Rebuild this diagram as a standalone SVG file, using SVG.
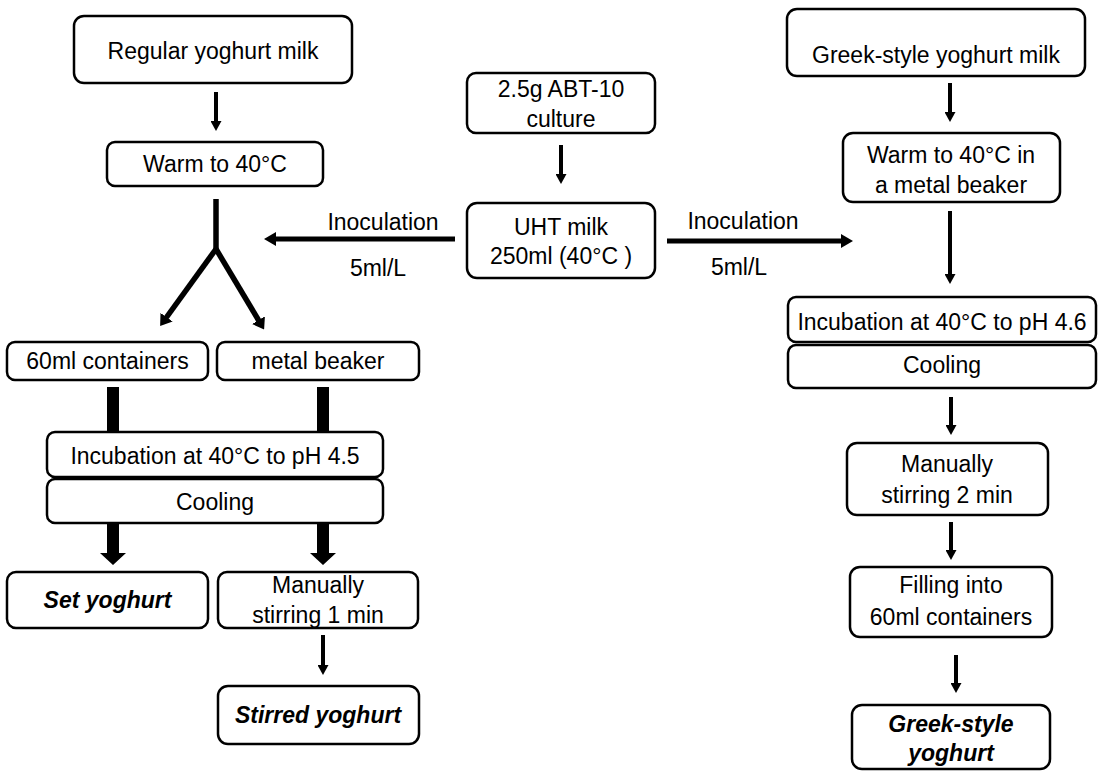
<svg xmlns="http://www.w3.org/2000/svg" width="1099" height="771" viewBox="0 0 1099 771">
<style>
.box{fill:#fff;stroke:#000;stroke-width:2.5}
text{font-family:"Liberation Sans",Arial,sans-serif;font-size:23px;fill:#000;text-anchor:middle}
.bi{font-weight:bold;font-style:italic}
.thin{stroke:#000;stroke-width:4;fill:none;marker-end:url(#h1)}
.hz{stroke:#000;stroke-width:5;fill:none;marker-end:url(#h2)}
.y{stroke:#000;stroke-width:5.5;fill:none}
.yd{stroke:#000;stroke-width:5.5;fill:none;marker-end:url(#h3)}
.thick{fill:#000}
</style>
<defs>
<marker id="h1" markerUnits="userSpaceOnUse" markerWidth="12" markerHeight="11" viewBox="0 0 10 11" refX="1" refY="5.5" orient="auto"><path d="M0,0 L10,5.5 L0,11 z"/></marker>
<marker id="h2" markerUnits="userSpaceOnUse" markerWidth="12" markerHeight="14" viewBox="0 0 12 14" refX="1" refY="7" orient="auto"><path d="M0,0 L12,7 L0,14 z"/></marker>
<marker id="h3" markerUnits="userSpaceOnUse" markerWidth="11" markerHeight="15" viewBox="0 0 11 15" refX="1" refY="7.5" orient="auto"><path d="M0,0 L11,7.5 L0,15 z"/></marker>
</defs>
<rect width="1099" height="771" fill="#fff"/>
<g id="connectors">
<line class="thin" x1="216" y1="92" x2="216" y2="122"/>
<line class="thin" x1="561" y1="145" x2="561" y2="175"/>
<line class="thin" x1="950" y1="83" x2="950" y2="113"/>
<line class="thin" x1="950" y1="211" x2="950" y2="275"/>
<line class="thin" x1="951" y1="397" x2="951" y2="426"/>
<line class="thin" x1="951" y1="522" x2="951" y2="551"/>
<line class="thin" x1="956" y1="655" x2="956" y2="684"/>
<line class="thin" x1="323" y1="635" x2="323" y2="666"/>
<line class="hz" x1="455" y1="239" x2="275" y2="239"/>
<line class="hz" x1="667" y1="241" x2="842" y2="241"/>
<polyline class="y" points="216,199 216,250"/>
<line class="yd" x1="216" y1="249" x2="166" y2="318"/>
<line class="yd" x1="216" y1="249" x2="259" y2="321"/>
<rect class="thick" x="107" y="387" width="12" height="46"/>
<rect class="thick" x="317" y="387" width="12" height="46"/>
<path class="thick" d="M107,523 H119 V553 H126 L113,565 L100,553 H107 Z"/>
<path class="thick" d="M317,523 H329 V553 H336 L323,565 L310,553 H317 Z"/>
<text x="383" y="230">Inoculation</text>
<text x="378" y="276">5ml/L</text>
<text x="743" y="229">Inoculation</text>
<text x="739" y="275">5ml/L</text>
</g>
<g id="n-regular"><rect class="box" x="74" y="16" width="278" height="67" rx="10"/><text x="213" y="59">Regular yoghurt milk</text></g>
<g id="n-warm"><rect class="box" x="107" y="142" width="216" height="44" rx="8"/><text x="215" y="172">Warm to 40°C</text></g>
<g id="n-abt"><rect class="box" x="467" y="73" width="188" height="60" rx="9"/><text x="561" y="97">2.5g ABT-10</text><text x="561" y="127">culture</text></g>
<g id="n-uht"><rect class="box" x="467" y="203" width="188" height="75" rx="10"/><text x="561" y="235">UHT milk</text><text x="561" y="264">250ml (40°C )</text></g>
<g id="n-greekmilk"><rect class="box" x="787" y="9" width="298" height="67" rx="10"/><text x="936" y="63">Greek-style yoghurt milk</text></g>
<g id="n-warm2"><rect class="box" x="843" y="133" width="217" height="69" rx="10"/><text x="951" y="163">Warm to 40°C in</text><text x="951" y="193">a metal beaker</text></g>
<g id="n-incub2"><rect class="box" x="788" y="297" width="308" height="45" rx="8"/><text x="942" y="330">Incubation at 40°C to pH 4.6</text></g>
<g id="n-cool2"><rect class="box" x="788" y="345" width="308" height="43" rx="8"/><text x="942" y="373">Cooling</text></g>
<g id="n-60ml"><rect class="box" x="7" y="342" width="201" height="38" rx="8"/><text x="107.5" y="369">60ml containers</text></g>
<g id="n-beaker"><rect class="box" x="217" y="342" width="202" height="38" rx="8"/><text x="318" y="369">metal beaker</text></g>
<g id="n-incub1"><rect class="box" x="47" y="432" width="336" height="45" rx="8"/><text x="215" y="464">Incubation at 40°C to pH 4.5</text></g>
<g id="n-cool1"><rect class="box" x="47" y="479" width="336" height="44" rx="8"/><text x="215" y="510">Cooling</text></g>
<g id="n-set"><rect class="box" x="7" y="572" width="201" height="56" rx="9"/><text class="bi" x="107.5" y="608">Set yoghurt</text></g>
<g id="n-stir1"><rect class="box" x="218" y="572" width="200" height="56" rx="9"/><text x="318" y="593">Manually</text><text x="318" y="623">stirring 1 min</text></g>
<g id="n-stirred"><rect class="box" x="218" y="686" width="201" height="58" rx="10"/><text class="bi" x="318" y="723">Stirred yoghurt</text></g>
<g id="n-stir2"><rect class="box" x="847" y="443" width="201" height="72" rx="10"/><text x="947" y="472">Manually</text><text x="947" y="503">stirring 2 min</text></g>
<g id="n-fill"><rect class="box" x="850" y="567" width="202" height="70" rx="10"/><text x="951" y="593">Filling into</text><text x="951" y="625">60ml containers</text></g>
<g id="n-greek"><rect class="box" x="852" y="705" width="198" height="64" rx="10"/><text class="bi" x="951" y="732">Greek-style</text><text class="bi" x="951" y="761">yoghurt</text></g>
</svg>
